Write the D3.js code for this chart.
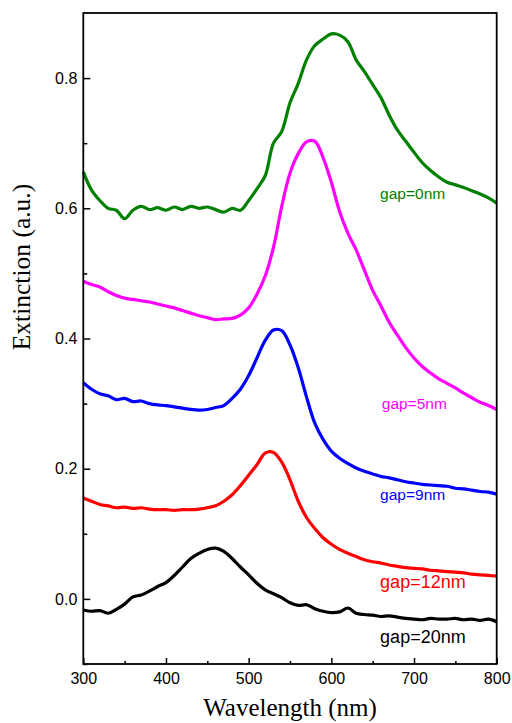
<!DOCTYPE html>
<html>
<head>
<meta charset="utf-8">
<script src="https://cdn.jsdelivr.net/npm/d3@7/dist/d3.min.js"></script>
<style>
    body { margin: 0; background: #fff; }
    #chart text { fill: #000; }
</style>
</head>
<body>
<div id="chart"></div>
<script>
'use strict';

// wavelength (nm), sampled every 10 nm
let wavelength = [300, 310, 320, 330, 340, 350, 360, 370, 380, 390,
    400, 410, 420, 430, 440, 450, 460, 470, 480, 490,
    500, 510, 520, 530, 540, 550, 560, 570, 580, 590,
    600, 610, 620, 630, 640, 650, 660, 670, 680, 690,
    700, 710, 720, 730, 740, 750, 760, 770, 780, 790, 800];

let gap0 = [0.656, 0.628, 0.612, 0.600, 0.597, 0.584, 0.597, 0.603, 0.598, 0.601,
    0.597, 0.602, 0.598, 0.603, 0.600, 0.602, 0.598, 0.594, 0.600, 0.597,
    0.612, 0.630, 0.650, 0.700, 0.718, 0.762, 0.792, 0.828, 0.850, 0.860,
    0.868, 0.866, 0.856, 0.828, 0.810, 0.790, 0.770, 0.743, 0.720, 0.703,
    0.686, 0.670, 0.658, 0.648, 0.640, 0.636, 0.632, 0.627, 0.622, 0.616, 0.608];

let gap5 = [0.488, 0.483, 0.479, 0.472, 0.466, 0.462, 0.460, 0.458, 0.456, 0.453,
    0.450, 0.447, 0.443, 0.439, 0.435, 0.432, 0.429, 0.430, 0.431, 0.436,
    0.447, 0.468, 0.496, 0.540, 0.603, 0.654, 0.684, 0.702, 0.703, 0.678,
    0.640, 0.595, 0.562, 0.536, 0.505, 0.474, 0.450, 0.425, 0.405, 0.386,
    0.370, 0.357, 0.347, 0.338, 0.331, 0.324, 0.316, 0.309, 0.302, 0.297, 0.291];

let gap9 = [0.332, 0.322, 0.315, 0.312, 0.306, 0.308, 0.303, 0.304, 0.300, 0.298,
    0.297, 0.295, 0.293, 0.291, 0.290, 0.291, 0.294, 0.297, 0.308, 0.322,
    0.343, 0.370, 0.397, 0.413, 0.412, 0.390, 0.355, 0.310, 0.270, 0.245,
    0.227, 0.216, 0.208, 0.201, 0.196, 0.192, 0.188, 0.186, 0.183, 0.180,
    0.178, 0.176, 0.175, 0.174, 0.173, 0.170, 0.169, 0.167, 0.165, 0.164, 0.161];

let gap12 = [0.155, 0.150, 0.145, 0.143, 0.140, 0.141, 0.139, 0.140, 0.138, 0.137,
    0.137, 0.136, 0.137, 0.137, 0.138, 0.140, 0.143, 0.150, 0.160, 0.174,
    0.190, 0.206, 0.224, 0.225, 0.210, 0.183, 0.150, 0.125, 0.108, 0.094,
    0.084, 0.076, 0.070, 0.065, 0.060, 0.057, 0.055, 0.052, 0.050, 0.048,
    0.047, 0.046, 0.044, 0.043, 0.042, 0.041, 0.040, 0.038, 0.037, 0.036, 0.035];

let gap20 = [-0.017, -0.019, -0.018, -0.022, -0.016, -0.008, 0.003, 0.006, 0.012, 0.019,
    0.025, 0.036, 0.049, 0.062, 0.070, 0.076, 0.078, 0.073, 0.062, 0.049,
    0.037, 0.024, 0.014, 0.008, 0.002, -0.006, -0.010, -0.009, -0.015, -0.019,
    -0.021, -0.020, -0.014, -0.022, -0.024, -0.025, -0.027, -0.026, -0.028, -0.030,
    -0.031, -0.032, -0.030, -0.031, -0.031, -0.030, -0.032, -0.031, -0.033, -0.031, -0.035];

let seriesNames = ['gap=0nm', 'gap=5nm', 'gap=9nm', 'gap=12nm', 'gap=20nm'];
let seriesValues = [gap0, gap5, gap9, gap12, gap20];
let seriesColors = ['#008000', '#ff00ff', '#0000ff', '#ff0000', '#000000'];

// label anchor points in data units
let labelX = [659, 661, 659, 659, 659];
let labelY = [0.614, 0.292, 0.152, 0.016, -0.068];
let labelSize = [15.5, 15.5, 15.5, 18, 18];

let xTicks = [300, 400, 500, 600, 700, 800];
let xMinor = [350, 450, 550, 650, 750];
let yTicks = [0.0, 0.2, 0.4, 0.6, 0.8];
let yMinor = [-0.1, 0.1, 0.3, 0.5, 0.7];

draw();

function draw() {
    let width = 512, height = 723;
    let margin = {top: 13, right: 15.3, bottom: 59, left: 83.3};
    let w = width - margin.left - margin.right;
    let h = height - margin.top - margin.bottom;

    let svg = d3.select('#chart')
        .append('svg')
        .attr('width', width)
        .attr('height', height);

    let g = svg.append('g')
        .attr('transform', 'translate(' + margin.left + ',' + margin.top + ')');

    let x = d3.scaleLinear().domain([300, 800]).range([0, w]);
    let y = d3.scaleLinear().domain([-0.1, 0.9]).range([h, 0]);

    let line = d3.line()
        .curve(d3.curveCatmullRom.alpha(0.5))
        .x(function (d) { return x(d[0]); })
        .y(function (d) { return y(d[1]); });

    g.selectAll('path.spectrum')
        .data(seriesValues)
        .enter()
        .append('path')
        .attr('class', 'spectrum')
        .attr('fill', 'none')
        .attr('stroke', function (d, i) { return seriesColors[i]; })
        .attr('stroke-width', 3.2)
        .attr('stroke-linejoin', 'round')
        .attr('d', function (vals) {
            return line(wavelength.map(function (wl, j) { return [wl, vals[j]]; }));
        });

    g.selectAll('text.gap')
        .data(seriesNames)
        .enter()
        .append('text')
        .attr('class', 'gap')
        .attr('x', function (d, i) { return x(labelX[i]); })
        .attr('y', function (d, i) { return y(labelY[i]); })
        .style('fill', function (d, i) { return seriesColors[i]; })
        .attr('font-family', 'Liberation Sans, Arial, sans-serif')
        .attr('font-size', function (d, i) { return labelSize[i]; })
        .text(function (d) { return d; });

    // axes, ticks pointing inward
    let xAxis = g.append('g')
        .attr('transform', 'translate(0,' + h + ')')
        .call(d3.axisBottom(x).tickValues(xTicks).tickSize(-6).tickPadding(9)
            .tickFormat(d3.format('d')));
    g.append('g')
        .attr('transform', 'translate(0,' + h + ')')
        .call(d3.axisBottom(x).tickValues(xMinor).tickSize(-3).tickFormat(''));

    let yAxis = g.append('g')
        .call(d3.axisLeft(y).tickValues(yTicks).tickSize(-7).tickPadding(6)
            .tickFormat(d3.format('.1f')));
    g.append('g')
        .call(d3.axisLeft(y).tickValues(yMinor).tickSize(-4).tickFormat(''));

    g.selectAll('.domain').remove();
    g.selectAll('.tick line').attr('stroke', '#000').attr('stroke-width', 1.5);

    [xAxis, yAxis].forEach(function (a) {
        a.selectAll('text')
            .attr('font-family', 'Liberation Sans, Arial, sans-serif')
            .attr('font-size', 16);
    });

    g.append('rect')
        .attr('width', w)
        .attr('height', h)
        .attr('fill', 'none')
        .attr('stroke', '#000')
        .attr('stroke-width', 1.8);

    svg.append('text')
        .attr('x', margin.left + w / 2)
        .attr('y', 716)
        .attr('text-anchor', 'middle')
        .attr('font-family', 'Liberation Serif, Times New Roman, serif')
        .attr('font-size', 25)
        .text('Wavelength (nm)');

    svg.append('text')
        .attr('transform', 'translate(30,267) rotate(-90)')
        .attr('text-anchor', 'middle')
        .attr('font-family', 'Liberation Serif, Times New Roman, serif')
        .attr('font-size', 25.5)
        .text('Extinction (a.u.)');
}
</script>
</body>
</html>
